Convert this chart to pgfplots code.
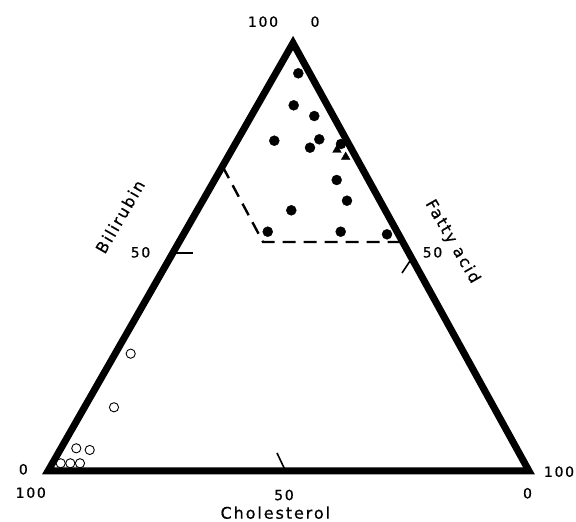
\documentclass[border=0pt]{standalone}
\usepackage{fontspec}
\setmainfont{DejaVu Sans}[LetterSpace=12, FakeBold=0.6]
\usepackage{pgfplots}
\pgfplotsset{compat=1.18}
\begin{document}
\begin{tikzpicture}
\begin{axis}[
  scale only axis, width=576pt, height=522pt,
  xmin=-9.98, xmax=109.77, ymin=-11.92, ymax=110.05,
  hide axis, clip=false,
]
% triangle frame
\addplot[black, line width=7pt, line join=miter, mark=none] coordinates {(0,0) (100,0) (50.94,100)} -- cycle;
% ticks at 50
\addplot[black, line width=1.6pt, mark=none] coordinates {(26.40,50.93) (30.15,50.93)};
\addplot[black, line width=1.6pt, mark=none] coordinates {(73.60,46.26) (75.68,49.77)};
\addplot[black, line width=1.6pt, mark=none] coordinates {(47.61,4.21) (49.38,0)};
% dashed region
\addplot[black, line width=2.4pt, dash pattern=on 13pt off 8pt, mark=none] coordinates {(36.32,71.10) (44.70,53.50) (73.04,53.50)};
% filled dots
\addplot[only marks, mark=*, mark size=5pt, black] coordinates {
(52.04,92.92) (51.08,85.44) (55.36,82.94) (47.05,77.17) (56.40,77.50)
(54.47,75.54) (60.91,76.40) (60.02,67.99) (62.16,63.15) (50.58,60.91)
(45.68,55.91) (60.85,55.91) (70.48,55.30)};
% triangles
\addplot[only marks, mark=triangle*, mark size=5pt, black] coordinates {(60.08,75.0) (61.89,73.36)};
% open circles
\addplot[only marks, mark=o, mark size=4.6pt, black, line width=0.9pt] coordinates {
(17.19,27.41) (13.72,14.88) (5.88,5.30) (8.67,4.91) (2.64,1.80) (4.64,1.80) (6.65,1.80)};
% labels
\node[font=\fontsize{14}{16}\selectfont] at (axis cs:44.70,104.98) {100};
\node[font=\fontsize{14}{16}\selectfont] at (axis cs:55.51,104.98) {0};
\node[font=\fontsize{14}{16}\selectfont] at (axis cs:-5.13,0.40) {0};
\node[font=\fontsize{14}{16}\selectfont] at (axis cs:-3.58,-5.07) {100};
\node[font=\fontsize{14}{16}\selectfont] at (axis cs:106.24,-0.16) {100};
\node[font=\fontsize{14}{16}\selectfont] at (axis cs:99.69,-5.21) {0};
\node[font=\fontsize{14}{16}\selectfont] at (axis cs:49.06,-5.61) {50};
\node[font=\fontsize{14}{16}\selectfont] at (axis cs:19.23,51.10) {50};
\node[font=\fontsize{14}{16}\selectfont] at (axis cs:79.94,51.10) {50};
\node[font=\fontsize{16}{18}\selectfont, inner sep=0.5pt] at (axis cs:47.26,-9.75) {Cholesterol};
\node[font=\fontsize{16}{18}\selectfont, rotate=60] at (axis cs:14.97,59.42) {Bilirubin};
\node[font=\fontsize{16}{18}\selectfont, rotate=-60] at (axis cs:84.05,53.57) {Fatty acid};
\end{axis}
\pgfresetboundingbox
\useasboundingbox (current axis.south west) rectangle (current axis.north east);
\end{tikzpicture}
\end{document}
